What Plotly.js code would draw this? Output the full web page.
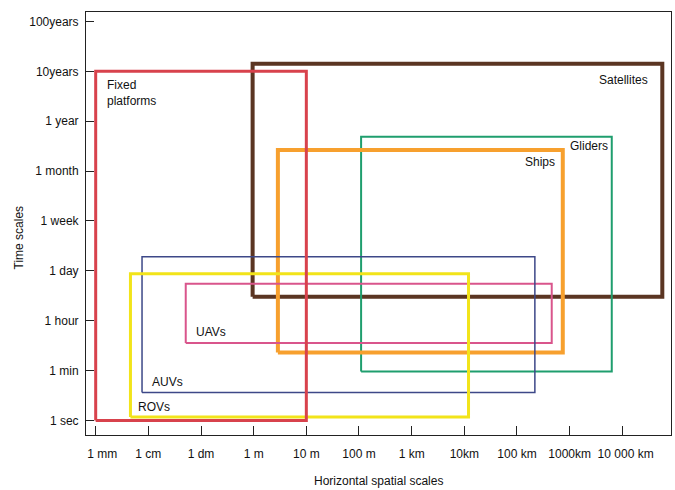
<!DOCTYPE html>
<html>
<head>
<meta charset="utf-8">
<script src="https://cdn.plot.ly/plotly-3.0.1.min.js"></script>
<style>html,body{margin:0;padding:0;background:#fff;}#chart{width:675px;height:490px;}</style>
</head>
<body>
<div id="chart"></div>
<script>
// X: log10 of horizontal scale in metres; Y: index of time-scale tick (1 sec = 0 ... 100 years = 8)
var xTickVals = [-3, -2, -1, 0, 1, 2, 3, 4, 5, 6, 7];
var xTickText = ["1 mm", "1 cm", "1 dm", "1 m", "10 m", "100 m", "1 km", "10km", "100 km", "1000km", "10 000 km"];
var yTickVals = [0, 1, 2, 3, 4, 5, 6, 7, 8];
var yTickText = ["1 sec", "1 min", "1 hour", "1 day", "1 week", "1 month", "1 year", "10years", "100years"];

var platforms = ["Satellites", "Gliders", "Ships", "UAVs", "AUVs", "ROVs", "Fixed platforms"];
var xMin = [-0.02, 2.04, 0.46, -1.29, -2.12, -2.34, -3.0];
var xMax = [7.76, 6.80, 5.87, 5.66, 5.34, 4.08, 1.0];
var yMin = [2.48, 0.98, 1.36, 1.55, 0.56, 0.07, 0.0];
var yMax = [7.15, 5.69, 5.42, 2.74, 3.28, 2.94, 7.0];

var colors = ["#5b3522", "#1f9e6e", "#f7a02e", "#d9558c", "#3d4888", "#f2e41a", "#d8424c"];
var widths = [4, 2, 4, 2, 1.5, 3, 3];

var traces = platforms.map(function (name, i) {
  return {
    type: "scatter", mode: "lines", name: name,
    x: [xMin[i], xMax[i], xMax[i], xMin[i], xMin[i]],
    y: [yMin[i], yMin[i], yMax[i], yMax[i], yMin[i]],
    line: {color: colors[i], width: widths[i]},
    hoverinfo: "skip", showlegend: false
  };
});

// nudge the outermost labels sideways (as in the reference) using leading non-breaking spaces
var NB = "\u00a0";
function pad(n) { return new Array(n + 1).join(NB); }
var xTickShown = xTickText.map(function (t, i) {
  if (i === 0) return pad(4) + t;
  if (i === xTickText.length - 1) return pad(2) + t;
  return t;
});

var F = "Liberation Sans, Arial, sans-serif";
function lab(text, i, corner, xa, ya, xs, ys) {
  return {
    text: text, showarrow: false,
    x: corner.indexOf("l") >= 0 ? xMin[i] : xMax[i],
    y: corner.indexOf("t") >= 0 ? yMax[i] : yMin[i],
    xref: "x", yref: "y", xanchor: xa, yanchor: ya, align: "left",
    xshift: xs, yshift: ys,
    font: {family: F, size: 12, color: "#111"}
  };
}

var annotations = [
  lab("Satellites", 0, "tr", "right", "middle", -12, -16),
  lab("Gliders", 1, "tr", "right", "middle", -2, -9.5),
  lab("Ships", 2, "tr", "right", "middle", -6, -11.7),
  lab("UAVs", 3, "bl", "left", "middle", 8, 11.6),
  lab("AUVs", 4, "bl", "left", "middle", 8, 10.6),
  lab("ROVs", 5, "bl", "left", "middle", 6, 9.7),
  lab("Fixed<br>platforms", 6, "tl", "left", "top", 9, -5),
  {text: "Time scales", showarrow: false, xref: "paper", yref: "paper", x: 0, y: 0.5,
   xanchor: "center", yanchor: "middle", xshift: -68, yshift: -14, textangle: -90,
   font: {family: F, size: 12, color: "#111"}},
  {text: "Horizontal spatial scales", showarrow: false, xref: "paper", yref: "paper", x: 0.5, y: 0,
   xanchor: "center", yanchor: "middle", yshift: -46,
   font: {family: F, size: 12, color: "#111"}}
];

var layout = {
  width: 675, height: 490,
  margin: {l: 86, r: 4, t: 12, b: 55},
  paper_bgcolor: "#fff", plot_bgcolor: "#fff",
  showlegend: false,
  xaxis: {
    range: [-3.184, 7.925], tickvals: xTickVals, ticktext: xTickShown, tickangle: 0,
    ticks: "inside", ticklen: 9, tickwidth: 1, tickcolor: "#222",
    showline: true, linecolor: "#222", linewidth: 1, mirror: true,
    showgrid: false, zeroline: false, ticklabelstandoff: 8,
    tickfont: {family: F, size: 12, color: "#111"}, fixedrange: true
  },
  yaxis: {
    range: [-0.293, 8.19], tickvals: yTickVals, ticktext: yTickText,
    ticks: "inside", ticklen: 8, tickwidth: 1, tickcolor: "#222",
    showline: true, linecolor: "#222", linewidth: 1, mirror: true,
    showgrid: false, zeroline: false, ticklabelstandoff: 4,
    tickfont: {family: F, size: 12, color: "#111"}, fixedrange: true
  },
  annotations: annotations
};

Plotly.newPlot("chart", traces, layout, {staticPlot: true, displayModeBar: false});
</script>
</body>
</html>
